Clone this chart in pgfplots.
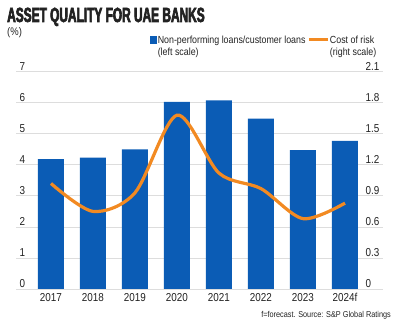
\documentclass[border=0pt]{standalone}
\usepackage{pgfplots}
\pgfplotsset{compat=1.18}
\usepackage{fontspec}
\setmainfont{Liberation Sans}[FakeStretch=0.86]
\newfontfamily\titlefont{Liberation Sans}[FakeStretch=0.58, BoldFeatures={FakeBold=3}]
\definecolor{barblue}{HTML}{0B5CB5}
\definecolor{lineorange}{HTML}{F28A22}
\definecolor{gridgray}{HTML}{DDDDDD}
\definecolor{txt}{HTML}{222222}
\begin{document}
\begin{tikzpicture}
\path[use as bounding box] (0,0) rectangle (400bp,325bp);
\begin{axis}[
  at={(16bp,36bp)}, anchor=south west,
  scale only axis, width=367bp, height=217.3bp,
  xmin=-0.833, xmax=7.905, ymin=0, ymax=7,
  ybar, bar width=26bp,
  xtick={0,1,2,3,4,5,6,7},
  xticklabels={2017,2018,2019,2020,2021,2022,2023,2024f},
  ytick={0,1,2,3,4,5,6,7},
  yticklabels={0,1,2,3,4,5,6,7},
  ymajorgrids, grid style={draw=gridgray, line width=0.8bp},
  axis line style={draw=none}, major tick length=0pt,
  ticklabel style={font=\fontsize{11.5bp}{13bp}\selectfont, text=txt},
  yticklabel style={anchor=south west, xshift=0bp, yshift=-2bp},
  xticklabel style={yshift=-1bp},
  legend columns=2,
  legend cell align=left,
  legend style={at={(axis description cs:0.364,1.174)}, anchor=north west,
    draw=none, fill=none, inner sep=0pt,
    font=\fontsize{10.3bp}{12bp}\selectfont, text=txt,
    nodes={anchor=base west},
    /tikz/every odd column/.append style={column sep=-1.5bp},
    /tikz/every even column/.append style={column sep=0bp}},
]
\addplot[fill=barblue, draw=none,
  legend image code/.code={\fill[barblue] (0bp,0bp) rectangle (7.5bp,7.5bp);}]
  coordinates {
  (0,4.18) (1,4.23) (2,4.50) (3,6.03) (4,6.08) (5,5.49) (6,4.47) (7,4.77)};
\addlegendentry{\vtop{\hbox{Non-performing loans/customer loans}\hbox{(left scale)}}}
\addlegendimage{legend image code/.code={\draw[lineorange, line width=3bp] (0bp,4bp) -- (19bp,4bp);}}
\addlegendentry{\vtop{\hbox{Cost of risk}\hbox{(right scale)}}}
\draw[draw=txt, line width=1bp] (rel axis cs:0,0) -- (rel axis cs:1.005,0);
\end{axis}
\begin{axis}[
  at={(16bp,36bp)}, anchor=south west,
  scale only axis, width=367bp, height=217.3bp,
  xmin=-0.833, xmax=7.905, ymin=0, ymax=2.1,
  hide x axis,
  axis line style={draw=none}, major tick length=0pt,
  yticklabel pos=right,
  ytick={0,0.3,0.6,0.9,1.2,1.5,1.8,2.1},
  yticklabels={0,0.3,0.6,0.9,1.2,1.5,1.8,2.1},
  ticklabel style={font=\fontsize{11.5bp}{13bp}\selectfont, text=txt},
  yticklabel style={anchor=south west, xshift=-21bp, yshift=-2bp},
]
\addplot[smooth, draw=lineorange, line width=3.2bp] coordinates {
  (0,1.02) (1,0.75) (2,0.93) (3,1.68) (4,1.12) (5,0.97) (6,0.68) (7,0.83)};
\end{axis}
\node[anchor=base west, inner sep=0pt, text=txt] at (7bp,303bp)
  {\titlefont\bfseries\fontsize{20.5bp}{22bp}\selectfont ASSET QUALITY FOR UAE BANKS};
\node[anchor=base west, inner sep=0pt, text=txt] at (7bp,289bp)
  {\fontsize{11bp}{13bp}\selectfont (\%)};
\node[anchor=base east, inner sep=0pt, text=txt] at (391bp,8bp)
  {\fontsize{8.5bp}{10bp}\selectfont f=forecast. Source: S\&P Global Ratings};
\end{tikzpicture}
\end{document}
